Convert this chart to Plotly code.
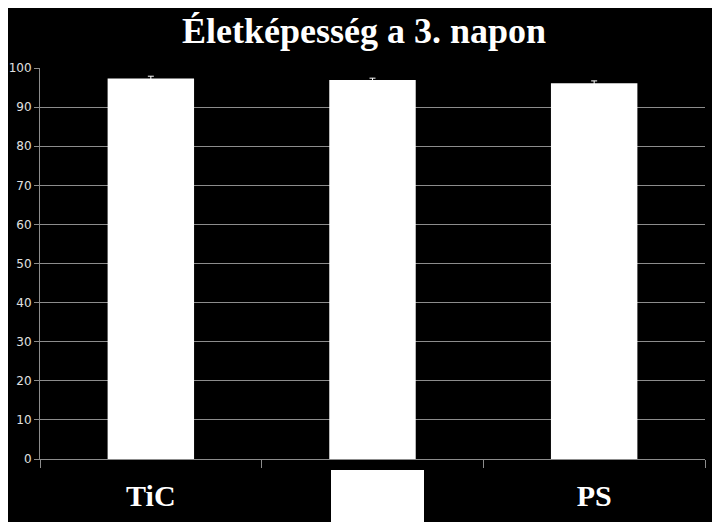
import plotly.graph_objects as go

categories = ["TiC", "mid", "PS"]
tick_labels = ["TiC", "", "PS"]
viability = [97.3, 96.9, 96.1]
errors = [0.6, 0.5, 0.6]
y_ticks = [0, 10, 20, 30, 40, 50, 60, 70, 80, 90, 100]

fig = go.Figure()

fig.add_trace(go.Bar(
    x=categories,
    y=viability,
    marker=dict(color="white", line=dict(width=0)),
    error_y=dict(type="data", array=errors, visible=True,
                 color="white", thickness=1, width=3),
    showlegend=False,
))

# page body adds an 8px offset, so the figure is 712x514
fig.update_layout(
    width=712,
    height=514,
    paper_bgcolor="black",
    plot_bgcolor="black",
    bargap=0.61,
    margin=dict(l=32, r=15, t=60, b=63),
    title=dict(
        text="<b>Életképesség a 3. napon</b>",
        x=0.5, xanchor="center", y=1 - 10 / 514, yanchor="top",
        font=dict(family="Liberation Serif", size=36, color="white"),
    ),
    xaxis=dict(
        automargin=False,
        tickmode="array",
        tickvals=categories,
        ticktext=["<b>%s</b>" % t for t in tick_labels],
        tickson="boundaries",
        ticks="outside",
        ticklen=8,
        tickcolor="#8c8c8c",
        ticklabelstandoff=10,
        showline=True,
        linecolor="#8c8c8c",
        linewidth=1,
        tickfont=dict(family="Liberation Serif", size=30, color="white"),
        showgrid=False,
    ),
    yaxis=dict(
        automargin=False,
        range=[0, 100],
        tickvals=y_ticks,
        ticks="outside",
        ticklen=5,
        tickcolor="#8c8c8c",
        showline=True,
        linecolor="#8c8c8c",
        linewidth=1,
        gridcolor="#8c8c8c",
        gridwidth=1,
        zeroline=False,
        tickfont=dict(family="DejaVu Sans", size=12, color="#e0e0e0"),
    ),
)

# white box covering the middle label
fig.add_shape(type="rect", xref="paper", yref="paper",
              x0=(323 - 32) / 665, x1=(416 - 32) / 665,
              y0=-63 / 391, y1=-11 / 391,
              fillcolor="white", line=dict(width=0), layer="above")

fig.write_html("out.html")
